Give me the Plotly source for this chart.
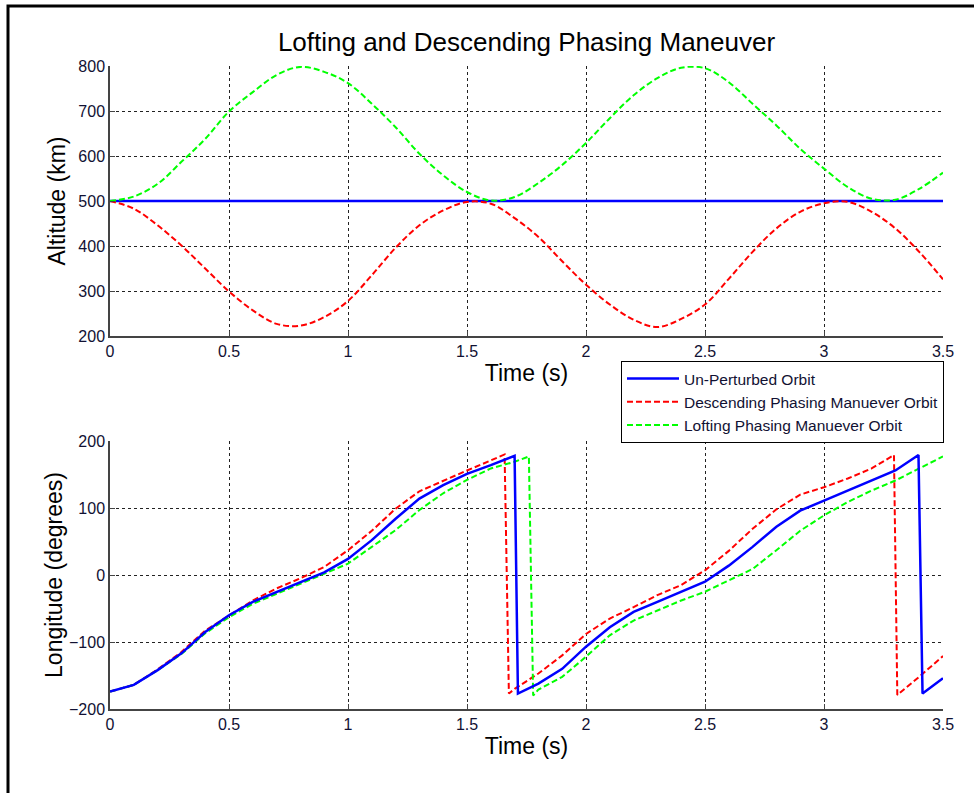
import plotly.graph_objects as go

# ---------------- data ----------------
t_alt = [0.0, 0.1, 0.2, 0.3, 0.4, 0.5, 0.6, 0.7, 0.8, 0.9, 1.0, 1.1, 1.2, 1.3, 1.4, 1.5, 1.6, 1.7,
         1.8, 1.9, 2.0, 2.1, 2.2, 2.3, 2.4, 2.5, 2.6, 2.7, 2.8, 2.9, 3.0, 3.1, 3.2, 3.3, 3.4, 3.5]
alt_unperturbed = [500] * 36
alt_descending = [500, 483, 446, 401, 350, 299, 257, 227, 223, 242, 278, 335, 396, 446, 479, 498, 494, 462,
                  420, 366, 314, 270, 236, 220, 238, 270, 327, 387, 439, 476, 495, 498, 476, 439, 387, 326]
alt_lofting = [500, 510, 538, 587, 638, 699, 742, 780, 798, 787, 762, 716, 664, 605, 557, 520, 501, 509,
               540, 580, 629, 684, 735, 773, 796, 795, 764, 716, 668, 616, 572, 531, 505, 503, 527, 563]

t_lon_un = [0.0, 0.1, 0.2, 0.3, 0.4, 0.5, 0.6, 0.7, 0.8, 0.9, 1.0, 1.1, 1.2, 1.3, 1.4, 1.5, 1.6, 1.70, 1.714,
            1.8, 1.9, 2.0, 2.1, 2.2, 2.3, 2.4, 2.5, 2.6, 2.7, 2.8, 2.9, 3.0, 3.1, 3.2, 3.3, 3.397, 3.414, 3.5]
lon_un = [-174, -164, -142, -117, -85, -60, -40, -25, -10, 4, 24, 52, 84, 114, 134, 151, 164, 178, -177,
          -162, -140, -107, -78, -55, -40, -25, -10, 14, 42, 72, 96, 111, 126, 141, 156, 179, -177, -154]

t_lon_desc = [0.0, 0.1, 0.2, 0.3, 0.4, 0.5, 0.6, 0.7, 0.8, 0.9, 1.0, 1.1, 1.2, 1.3, 1.4, 1.5, 1.6, 1.658, 1.676,
              1.7, 1.8, 1.9, 2.0, 2.1, 2.2, 2.3, 2.4, 2.5, 2.6, 2.7, 2.8, 2.9, 3.0, 3.1, 3.2, 3.294, 3.308, 3.4, 3.5]
lon_desc = [-174, -164, -141, -115, -83, -60, -38, -20, -5, 12, 37, 66, 99, 125, 141, 156, 171, 180, -177,
            -170, -147, -120, -88, -65, -48, -30, -15, 7, 36, 69, 98, 120, 131, 144, 159, 179, -179, -152, -121]

t_lon_loft = [0.0, 0.1, 0.2, 0.3, 0.4, 0.5, 0.6, 0.7, 0.8, 0.9, 1.0, 1.1, 1.2, 1.3, 1.4, 1.5, 1.6, 1.7, 1.76, 1.778,
              1.8, 1.9, 2.0, 2.1, 2.2, 2.3, 2.4, 2.5, 2.6, 2.7, 2.8, 2.9, 3.0, 3.1, 3.2, 3.3, 3.4, 3.5]
lon_loft = [-174, -164, -142, -118, -87, -63, -43, -28, -13, 2, 17, 42, 67, 97, 122, 142, 159, 169, 177, -180,
            -171, -152, -122, -90, -68, -53, -38, -25, -8, 9, 37, 66, 89, 109, 126, 141, 159, 177]

x_ticks = [0, 0.5, 1, 1.5, 2, 2.5, 3, 3.5]
x_tick_labels = ["0", "0.5", "1", "1.5", "2", "2.5", "3", "3.5"]
alt_ticks = [200, 300, 400, 500, 600, 700, 800]
lon_ticks = [-200, -100, 0, 100, 200]

names = ["Un-Perturbed Orbit", "Descending Phasing Manuever Orbit", "Lofting Phasing Manuever Orbit"]
colors = ["#0000FF", "#FF0000", "#00FF00"]

# ---------------- figure ----------------
W, H = 974, 793
FONT = "Arial, 'Liberation Sans', sans-serif"

fig = go.Figure()

# top panel
fig.add_trace(go.Scatter(x=t_alt, y=alt_unperturbed, mode="lines", name=names[0],
                         line=dict(color=colors[0], width=2.5), xaxis="x", yaxis="y"))
fig.add_trace(go.Scatter(x=t_alt, y=alt_descending, mode="lines", name=names[1],
                         line=dict(color=colors[1], width=2, dash="6px,3px", shape="spline"),
                         xaxis="x", yaxis="y"))
fig.add_trace(go.Scatter(x=t_alt, y=alt_lofting, mode="lines", name=names[2],
                         line=dict(color=colors[2], width=2, dash="6px,3px", shape="spline"),
                         xaxis="x", yaxis="y"))

# bottom panel
fig.add_trace(go.Scatter(x=t_lon_desc, y=lon_desc, mode="lines", showlegend=False,
                         line=dict(color=colors[1], width=2, dash="6px,3px"), xaxis="x2", yaxis="y2"))
fig.add_trace(go.Scatter(x=t_lon_loft, y=lon_loft, mode="lines", showlegend=False,
                         line=dict(color=colors[2], width=2, dash="6px,3px"), xaxis="x2", yaxis="y2"))
fig.add_trace(go.Scatter(x=t_lon_un, y=lon_un, mode="lines", showlegend=False,
                         line=dict(color=colors[0], width=2.5), xaxis="x2", yaxis="y2"))

x0p, x1p = 110 / W, 943 / W
top_dom = [1 - 336 / H, 1 - 66 / H]
bot_dom = [1 - 709 / H, 1 - 441 / H]

common_x = dict(range=[0, 3.5], tickvals=x_ticks, ticktext=x_tick_labels, showgrid=True,
                gridcolor="#222222", griddash="3px,3px", gridwidth=1, showline=True, linecolor="#444444",
                linewidth=1.5, ticks="inside", ticklen=5, tickcolor="#444444", zeroline=False,
                tickfont=dict(family=FONT, size=16, color="#111133"), automargin=False,
                domain=[x0p, x1p], fixedrange=True)
common_y = dict(showgrid=True, gridcolor="#222222", griddash="3px,3px", gridwidth=1, showline=True,
                linecolor="#444444", linewidth=1.5, ticks="inside", ticklen=5, tickcolor="#444444",
                zeroline=False, tickfont=dict(family=FONT, size=16, color="#111133"), automargin=False,
                fixedrange=True)

fig.update_layout(
    width=W, height=H,
    margin=dict(l=0, r=0, t=0, b=0),
    paper_bgcolor="white", plot_bgcolor="white",
    font=dict(family=FONT, color="black"),
    title=dict(text="Lofting and Descending Phasing Maneuver", x=(x0p + x1p) / 2, xanchor="center",
               y=1 - 42 / H, yanchor="middle", font=dict(family=FONT, size=26, color="black")),
    xaxis=dict(common_x, anchor="y",
               title=dict(text="Time (s)", font=dict(family=FONT, size=23, color="black"), standoff=6)),
    yaxis=dict(common_y, anchor="x", domain=top_dom, range=[200, 800], tickvals=alt_ticks,
               title=dict(text="Altitude (km)", font=dict(family=FONT, size=23, color="black"), standoff=6)),
    xaxis2=dict(common_x, anchor="y2",
                title=dict(text="Time (s)", font=dict(family=FONT, size=23, color="black"), standoff=6)),
    yaxis2=dict(common_y, anchor="x2", domain=bot_dom, range=[-200, 200], tickvals=lon_ticks,
                title=dict(text="Longitude (degrees)", font=dict(family=FONT, size=23, color="black"),
                           standoff=0)),
    legend=dict(x=621 / W, y=1 - 361 / H, xanchor="left", yanchor="top", bgcolor="white",
                bordercolor="black", borderwidth=1, font=dict(family=FONT, size=15.5, color="#111133"),
                tracegroupgap=0, itemwidth=52),
    shapes=[dict(type="rect", xref="paper", yref="paper", x0=8 / W, x1=1.02, y0=-0.02, y1=1 - 6 / H,
                 line=dict(color="black", width=3), fillcolor="rgba(0,0,0,0)", layer="above")],
)

fig.write_html("out.html")
